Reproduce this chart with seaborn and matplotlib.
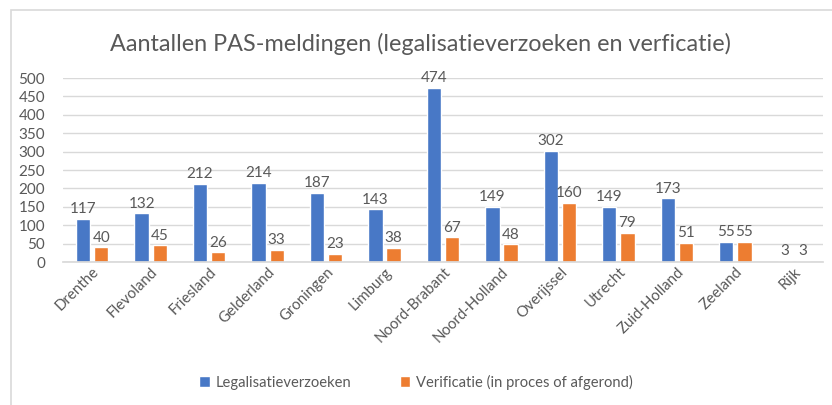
import matplotlib
matplotlib.use("Agg")
import matplotlib.pyplot as plt
import seaborn as sns
import pandas as pd
from matplotlib.patches import Rectangle

categories = ["Drenthe", "Flevoland", "Friesland", "Gelderland", "Groningen", "Limburg",
              "Noord-Brabant", "Noord-Holland", "Overijssel", "Utrecht", "Zuid-Holland",
              "Zeeland", "Rijk"]
legalisatie = [117, 132, 212, 214, 187, 143, 474, 149, 302, 149, 173, 55, 3]
verificatie = [40, 45, 26, 33, 23, 38, 67, 48, 160, 79, 51, 55, 3]
series_names = ["Legalisatieverzoeken", "Verificatie (in proces of afgerond)"]
yticks = list(range(0, 501, 50))
title = "Aantallen PAS-meldingen (legalisatieverzoeken en verficatie)"

df = pd.DataFrame({
    "cat": categories * 2,
    "val": legalisatie + verificatie,
    "serie": [series_names[0]] * len(categories) + [series_names[1]] * len(categories),
})

sns.set_theme(style="white")
plt.rcParams["font.family"] = ["Lato", "DejaVu Sans"]
txt = "#595959"

fig = plt.figure(figsize=(8.32, 4.05), dpi=100)
ax = fig.add_axes([63 / 832, 1 - 262 / 405, 760 / 832, (262 - 78) / 405])

sns.barplot(data=df, x="cat", y="val", hue="serie", order=categories,
            hue_order=series_names, palette=["#4878C6", "#ED7D31"],
            width=0.62, saturation=1, ax=ax, legend=True)

# shrink bars to create small gap between series
for p in ax.patches:
    w = p.get_width()
    if w <= 0 or w > 1:
        continue
    nw = 0.245
    p.set_x(p.get_x() + (w - nw) / 2)
    p.set_width(nw)

for cont in ax.containers:
    ax.bar_label(cont, padding=2, fontsize=11, color=txt)

ax.set_ylim(0, 500)
ax.set_xlim(-0.5, len(categories) - 0.5)
ax.set_yticks(yticks)
ax.yaxis.grid(True, color="#d9d9d9", linewidth=1)
ax.set_axisbelow(True)
for s in ["top", "right", "left"]:
    ax.spines[s].set_visible(False)
ax.spines["bottom"].set_color("#d9d9d9")
ax.tick_params(axis="y", labelsize=11, colors=txt, length=0, pad=13)
ax.tick_params(axis="x", labelsize=10.8, colors=txt, length=0, pad=2)
plt.setp(ax.get_xticklabels(), rotation=45, ha="right", rotation_mode="anchor")
ax.set_xlabel("")
ax.set_ylabel("")

ax.legend(loc="center", bbox_to_anchor=(0.5, 1 - 382 / 405), bbox_transform=fig.transFigure,
          ncol=2, frameon=False, fontsize=10.6, labelcolor=txt, handlelength=0.7,
          handleheight=0.7, columnspacing=3.3, handletextpad=0.4)

fig.text(0.505, 1 - 44 / 405, title, ha="center", va="center", fontsize=16.8, color=txt)

fig.patches.append(Rectangle((11 / 832, -0.1), 1.2, 1 - 10 / 405 + 0.1, transform=fig.transFigure,
                             fill=False, edgecolor="#d9d9d9", linewidth=1.2))

fig.savefig("out.png", dpi=100)
